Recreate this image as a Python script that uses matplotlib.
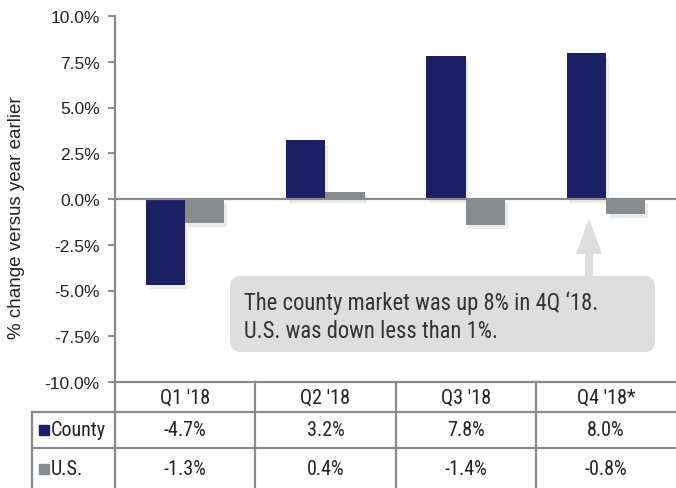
import numpy as np
import matplotlib
matplotlib.use("Agg")
import matplotlib.pyplot as plt
from matplotlib.lines import Line2D
from matplotlib.patches import FancyBboxPatch, Polygon, Rectangle
from matplotlib.transforms import blended_transform_factory
import matplotlib.patheffects as pe

quarters = ["Q1 '18", "Q2 '18", "Q3 '18", "Q4 '18*"]
county = [-4.7, 3.2, 7.8, 8.0]
us = [-1.3, 0.4, -1.4, -0.8]
series_names = ["County", "U.S."]
yticks = [-10, -7.5, -5, -2.5, 0, 2.5, 5, 7.5, 10]
note = "The county market was up 8% in 4Q \u201818.\nU.S. was down less than 1%."

navy = "#1b2065"
grey = "#898c8f"
line_c = "#8a8a8a"
txt_c = "#222222"
narrow = ["Roboto Condensed", "DejaVu Sans"]
arial = ["Liberation Sans", "DejaVu Sans"]

W, H = 676, 489
fig = plt.figure(figsize=(W / 100, H / 100), dpi=100)

def fx(px):
    return px / W

def fy(py):
    return 1 - py / H

# pixel position (from top-left) in inches, for isotropic shapes
def pin(px, py):
    return px / 100, (H - py) / 100

ax_l, ax_r, ax_t, ax_b = 115, 676, 17, 383
ax = fig.add_axes([fx(ax_l), fy(ax_b), fx(ax_r - ax_l), (ax_b - ax_t) / H])

x = np.arange(len(quarters))
bw = 0.28
shadow = [pe.SimplePatchShadow(offset=(2, -3), shadow_rgbFace="#b0b0b0", alpha=0.25), pe.Normal()]
b1 = ax.bar(x - bw / 2, county, bw, color=navy, zorder=3)
b2 = ax.bar(x + bw / 2, us, bw, color=grey, zorder=3)
for b in list(b1) + list(b2):
    b.set_path_effects(shadow)

ax.axhline(0, color=line_c, lw=1.6, zorder=4)
ax.set_xlim(-0.5, len(quarters) - 0.5)
ax.set_ylim(-10, 10)
ax.set_yticks(yticks)
ax.set_yticklabels([f"{v:.1f}%" for v in yticks], fontsize=12.5,
                   family=arial, color=txt_c)
ax.set_xticks([])
for s in ["top", "right", "bottom"]:
    ax.spines[s].set_visible(False)
ax.spines["left"].set_color(line_c)
ax.spines["left"].set_linewidth(1.6)
ax.tick_params(axis="y", length=5, width=1.4, color=line_c, pad=6)
fig.text(fx(17), fy(218), "% change versus year earlier", rotation=90,
         ha="center", va="center", fontsize=13.5, family=arial, color=txt_c)

# table grid
lw = 1.6
def hline(py, x0, x1):
    fig.add_artist(Line2D([fx(x0), fx(x1)], [fy(py), fy(py)], color=line_c, lw=lw))

def vline(px, y0, y1):
    fig.add_artist(Line2D([fx(px), fx(px)], [fy(y0), fy(y1)], color=line_c, lw=lw))

hline(ax_b, ax_l, W)
hline(413, 32, W)
hline(449, 32, W)
vline(ax_l, ax_b, H)
vline(32, 413, H)
tr = blended_transform_factory(ax.transData, fig.transFigure)
for i in range(len(quarters) - 1):
    ax.add_line(Line2D([i + 0.5, i + 0.5], [fy(ax_b), 0], transform=tr,
                       color=line_c, lw=lw, clip_on=False))

row_y = [398, 431, 470]
fs = 14.5
for i, q in enumerate(quarters):
    fig.text(i, fy(row_y[0]), q, transform=tr, ha="center", va="center",
             fontsize=fs, family=narrow, color=txt_c)
    fig.text(i, fy(row_y[1]), f"{county[i]:.1f}%", transform=tr, ha="center",
             va="center", fontsize=fs, family=narrow, color=txt_c)
    fig.text(i, fy(row_y[2]), f"{us[i]:.1f}%", transform=tr, ha="center",
             va="center", fontsize=fs, family=narrow, color=txt_c)

for name, col, py in zip(series_names, [navy, grey], row_y[1:]):
    fig.add_artist(Rectangle(pin(39, py + 5), 0.10, 0.10, color=col,
                             transform=fig.dpi_scale_trans))
    fig.text(fx(51), fy(py), name, ha="left", va="center", fontsize=fs,
             family=narrow, color=txt_c)

# callout box with arrow to Q4
box_c = "#dedede"
fig.add_artist(FancyBboxPatch(pin(230, 353), 4.25, 0.76,
                              boxstyle="round,pad=0,rounding_size=0.11",
                              transform=fig.dpi_scale_trans, fc=box_c, ec="none"))
arrow_px = [(585, 278), (593, 278), (593, 255), (602, 255), (589, 219),
            (576, 255), (585, 255)]
fig.add_artist(Polygon([pin(a, b) for a, b in arrow_px], closed=True,
                       transform=fig.dpi_scale_trans, fc=box_c, ec="none"))
fig.text(fx(244), fy(317), note, ha="left", va="center", fontsize=16.3,
         family=narrow, color="#333333", linespacing=1.3)

fig.savefig("out.png", dpi=100)
